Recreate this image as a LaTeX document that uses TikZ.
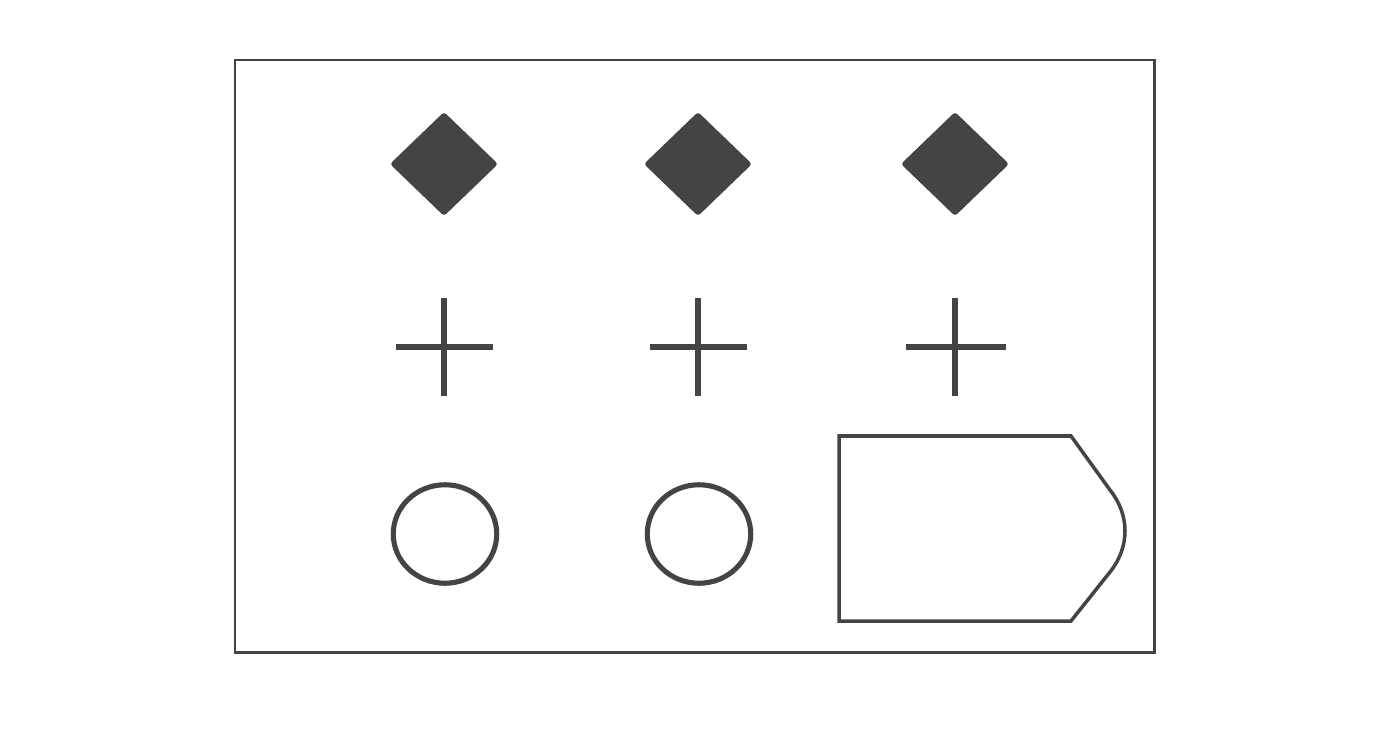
\documentclass[tikz,border=0pt]{standalone}
\usepackage{xcolor}
\usepackage{tikz}
\usetikzlibrary{shapes,positioning}

\definecolor{inkgray}{HTML}{444444}

\begin{document}
\begin{tikzpicture}[x=0.02cm, y=-0.02cm]
    % Define styles
    \tikzstyle{gem} = [diamond, minimum width=2.14cm, minimum height=2.06cm, inner sep=0pt, draw=inkgray, fill=inkgray, line width=0.6pt, rounded corners=1.5pt]
    \tikzstyle{ring} = [ellipse, minimum width=2.07cm, minimum height=1.97cm, inner sep=0pt, draw=inkgray, line width=2.9pt]
    \tikzstyle{crossline} = [draw=inkgray, line width=3pt]
    \tikzstyle{frame} = [draw=inkgray, line width=1.7pt]
    \tikzstyle{tag} = [draw=inkgray, line width=2pt, line join=miter]

    \useasboundingbox (0,0) rectangle (1400,754);

    % Frame
    \draw[frame] (235,60) rectangle (1154,652);

    % Diamonds
    \node[gem] (gem_left) at (444,164) {};
    \node[gem] (gem_mid) at (698,164) {};
    \node[gem] (gem_right) at (955,164) {};

    % Crosses
    \draw[crossline] (396,347) -- (493,347);
    \draw[crossline] (444,298) -- (444,396);
    \draw[crossline] (650,347) -- (747,347);
    \draw[crossline] (698,298) -- (698,396);
    \draw[crossline] (906,347) -- (1006,347);
    \draw[crossline] (955,298) -- (955,396);

    % Circles
    \node[ring] (ring_left) at (445,534) {};
    \node[ring] (ring_mid) at (699,534) {};

    % Tag shape
    \draw[tag] (839,436) -- (1071,436) -- (1110,490)
        .. controls (1130,515) and (1130,547) .. (1110,572)
        -- (1071,621) -- (839,621) -- cycle;
\end{tikzpicture}
\end{document}
